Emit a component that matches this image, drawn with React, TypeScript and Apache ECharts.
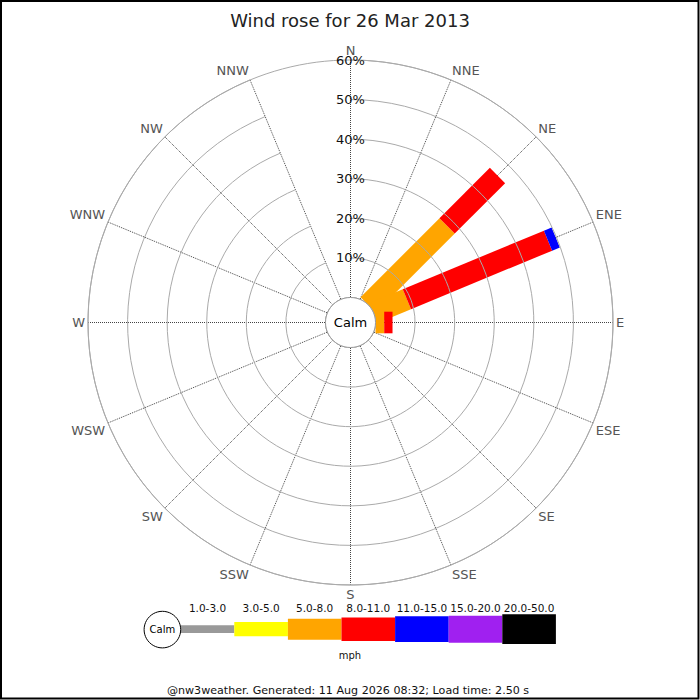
import React, { useEffect, useRef } from 'react';
import * as echarts from 'echarts';

// ---- data ----
const directions = ['N', 'NNE', 'NE', 'ENE', 'E', 'ESE', 'SE', 'SSE', 'S', 'SSW', 'SW', 'WSW', 'W', 'WNW', 'NW', 'NNW'];
const speedBins = ['1.0-3.0', '3.0-5.0', '5.0-8.0', '8.0-11.0', '11.0-15.0', '15.0-20.0', '20.0-50.0'];
const speedUnit = 'mph';
// percent of observations per direction (N..NNW) for each speed bin
const bin1to3 = [0, 0, 0, 0, 0, 0, 0, 0, 0, 0, 0, 0, 0, 0, 0, 0];
const bin3to5 = [0, 0, 0, 0, 0, 0, 0, 0, 0, 0, 0, 0, 0, 0, 0, 0];
const bin5to8 = [0, 0, 28.2, 9.1, 2.2, 0, 0, 0, 0, 0, 0, 0, 0, 0, 0, 0];
const bin8to11 = [0, 0, 18.0, 38.6, 2.1, 0, 0, 0, 0, 0, 0, 0, 0, 0, 0, 0];
const bin11to15 = [0, 0, 0, 2.1, 0, 0, 0, 0, 0, 0, 0, 0, 0, 0, 0, 0];
const bin15to20 = [0, 0, 0, 0, 0, 0, 0, 0, 0, 0, 0, 0, 0, 0, 0, 0];
const bin20to50 = [0, 0, 0, 0, 0, 0, 0, 0, 0, 0, 0, 0, 0, 0, 0, 0];
const radiusMax = 60;
const radiusInterval = 10;
const titleText = 'Wind rose for 26 Mar 2013';
const calmLabel = 'Calm';
const footerText = '@nw3weather. Generated: 11 Aug 2026 08:32; Load time: 2.50 s';

// ---- styles ----
const binColors = ['#999999', '#ffff00', '#ffa500', '#ff0000', '#0000ff', '#a020f0', '#000000'];
const legendBarHeights = [7.7, 14.3, 21, 23.4, 25.7, 27, 29.7];
const FONT = 'DejaVu Sans';
const CX = 350.5;
const CY = 322.5;
const INNER_R = 25;
const OUTER_R = 262.5;
const BAR_HALF = 10.8;

export default function App() {
  const ref = useRef<HTMLDivElement>(null);

  useEffect(() => {
    document.body.style.margin = '0';
    if (!ref.current) return;
    const chart = echarts.init(ref.current, undefined, { renderer: 'svg' });

    const binValues = [bin1to3, bin3to5, bin5to8, bin8to11, bin11to15, bin15to20, bin20to50];
    const cum = directions.map(() => 0);
    const series = binValues.map((vals, b) => {
      const data: number[][] = [];
      vals.forEach((v, i) => {
        if (v > 0) data.push([i, cum[i], cum[i] + v]);
        cum[i] += v;
      });
      const color = binColors[b];
      return {
        type: 'custom',
        name: speedBins[b],
        coordinateSystem: 'polar',
        polarIndex: 0,
        encode: { angle: 0, radius: [1, 2] },
        data,
        z: 3,
        renderItem: (params: any, api: any) => {
          const i = api.value(0);
          const s = api.value(1);
          const e = api.value(2);
          const p0 = api.coord([s, i]);
          const p1 = api.coord([e, i]);
          const dx = p1[0] - p0[0];
          const dy = p1[1] - p0[1];
          const len = Math.hypot(dx, dy) || 1;
          const nx = (-dy / len) * BAR_HALF;
          const ny = (dx / len) * BAR_HALF;
          return {
            type: 'polygon',
            shape: {
              points: [
                [p0[0] + nx, p0[1] + ny],
                [p1[0] + nx, p1[1] + ny],
                [p1[0] - nx, p1[1] - ny],
                [p0[0] - nx, p0[1] - ny],
              ],
            },
            style: { fill: color },
          };
        },
      };
    });

    const legendX0 = 180.7;
    const legendW = 53.6;
    const legendCY = 629.2;
    const graphics: any[] = [
      {
        type: 'rect',
        z: 100,
        shape: { x: 1, y: 1, width: 697.5, height: 697.5 },
        style: { fill: 'none', stroke: '#000', lineWidth: 2 },
        silent: true,
      },
      {
        type: 'circle',
        z: 100,
        shape: { cx: CX, cy: CY, r: INNER_R },
        style: { fill: '#fff', stroke: '#999', lineWidth: 1 },
      },
      {
        type: 'text',
        z: 101,
        x: CX,
        y: CY,
        style: { text: calmLabel, fontFamily: FONT, fontSize: 13, fill: '#000', align: 'center', verticalAlign: 'middle' },
      },
      {
        type: 'circle',
        z: 100,
        shape: { cx: 162.4, cy: 629.6, r: 18.3 },
        style: { fill: '#fff', stroke: '#000', lineWidth: 1 },
      },
      {
        type: 'text',
        z: 101,
        x: 162.4,
        y: 629.6,
        style: { text: calmLabel, fontFamily: FONT, fontSize: 10, fill: '#000', align: 'center', verticalAlign: 'middle' },
      },
      {
        type: 'text',
        z: 101,
        x: 350,
        y: 655,
        style: { text: speedUnit, fontFamily: FONT, fontSize: 10, fill: '#111', align: 'center', verticalAlign: 'middle' },
      },
      {
        type: 'text',
        z: 101,
        x: 348,
        y: 690,
        style: { text: footerText, fontFamily: FONT, fontSize: 11.1, fill: '#111', align: 'center', verticalAlign: 'middle' },
      },
    ];
    speedBins.forEach((label, b) => {
      const h = legendBarHeights[b];
      const x = legendX0 + b * legendW;
      graphics.push({
        type: 'rect',
        z: 99,
        shape: { x, y: legendCY - h / 2, width: legendW, height: h },
        style: { fill: binColors[b] },
      });
      graphics.push({
        type: 'text',
        z: 101,
        x: x + legendW / 2,
        y: 607.5,
        style: { text: label, fontFamily: FONT, fontSize: 10.5, fill: '#111', align: 'center', verticalAlign: 'middle' },
      });
    });

    chart.setOption({
      animation: false,
      backgroundColor: '#fff',
      textStyle: { fontFamily: FONT },
      title: {
        text: titleText,
        left: 'center',
        top: 6,
        textStyle: { fontFamily: FONT, fontSize: 18, fontWeight: 'normal', color: '#222' },
      },
      polar: { center: [CX, CY], radius: [INNER_R, OUTER_R] },
      angleAxis: {
        type: 'category',
        data: directions,
        boundaryGap: false,
        startAngle: 90,
        clockwise: true,
        axisLine: { show: true, lineStyle: { color: '#aaa', width: 1 } },
        axisTick: { show: false },
        axisLabel: { interval: 0, margin: 3, color: '#555', fontSize: 13, fontFamily: FONT },
        splitLine: { show: true, interval: 0, lineStyle: { color: '#444', type: 'dotted', width: 1 } },
        z: 1,
      },
      radiusAxis: {
        type: 'value',
        min: 0,
        max: radiusMax,
        interval: radiusInterval,
        axisLine: { show: false },
        axisTick: { show: false },
        axisLabel: {
          formatter: '{value}%',
          showMinLabel: false,
          margin: 0,
          align: 'center',
          verticalAlign: 'middle',
          color: '#111',
          fontSize: 13,
          fontFamily: FONT,
        },
        splitLine: { show: true, lineStyle: { color: '#aaa', width: 1 } },
        z: 5,
      },
      series,
      graphic: graphics,
    });

    return () => chart.dispose();
  }, []);

  return <div ref={ref} style={{ width: 700, height: 700 }} />;
}
